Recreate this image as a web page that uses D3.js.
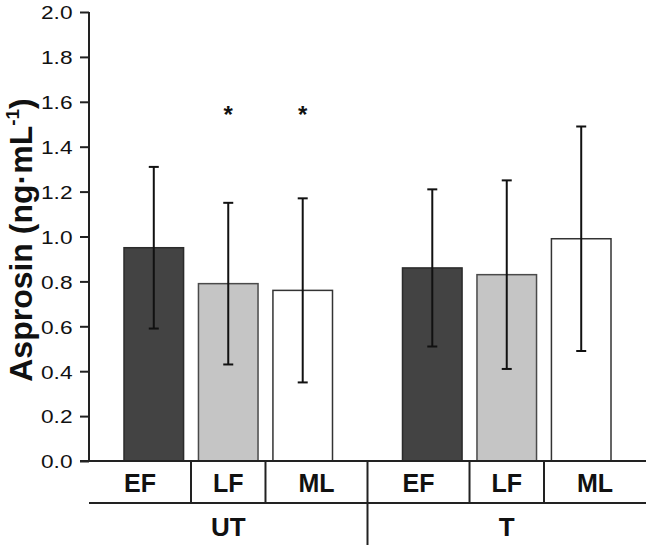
<!DOCTYPE html>
<html>
<head>
<meta charset="utf-8">
<script src="https://cdn.jsdelivr.net/npm/d3@7"></script>
<style>
  html, body { margin: 0; padding: 0; background: #fff; }
  svg { display: block; font-family: "Liberation Sans", Arial, sans-serif; }
</style>
</head>
<body>
<svg id="chart" width="649" height="548"></svg>
<script>
const groups = ["UT", "T"];
const categories = ["EF", "LF", "ML"];
const meansUT = [0.95, 0.79, 0.76];
const sdUT = [0.36, 0.36, 0.41];
const meansT = [0.86, 0.83, 0.99];
const sdT = [0.35, 0.42, 0.50];
const starsUT = ["", "*", "*"];
const starsT = ["", "", ""];
const yTicks = [0, 0.2, 0.4, 0.6, 0.8, 1.0, 1.2, 1.4, 1.6, 1.8, 2.0];
const fills = { EF: "#434343", LF: "#c5c5c5", ML: "#ffffff" };
const strokes = { EF: "#2b2b2b", LF: "#4a4a4a", ML: "#333333" };

const data = [];
groups.forEach((g, gi) => {
  const m = gi === 0 ? meansUT : meansT;
  const s = gi === 0 ? sdUT : sdT;
  const st = gi === 0 ? starsUT : starsT;
  categories.forEach((c, ci) => data.push({ group: g, cat: c, mean: m[ci], sd: s[ci], star: st[ci] }));
});

const svg = d3.select("#chart");
const axisColor = "#222";

const y = d3.scaleLinear().domain([0, 2]).range([461, 12]);
const gx = d3.scaleBand().domain(groups).range([89, 646]).padding(0);
const cx = d3.scaleBand().domain(categories).range([0, gx.bandwidth()]).paddingInner(0.2).paddingOuter(0.47);
const barCenter = d => gx(d.group) + cx(d.cat) + cx.bandwidth() / 2;

// Bars
svg.append("g").selectAll("rect").data(data).join("rect")
  .attr("x", d => gx(d.group) + cx(d.cat))
  .attr("y", d => y(d.mean))
  .attr("width", cx.bandwidth())
  .attr("height", d => y(0) - y(d.mean))
  .attr("fill", d => fills[d.cat])
  .attr("stroke", d => strokes[d.cat])
  .attr("stroke-width", 1.5);

// Error bars
const capW = 10;
const eb = svg.append("g").attr("stroke", "#111").attr("stroke-width", 2);
data.forEach(d => {
  const x0 = barCenter(d);
  eb.append("line").attr("x1", x0).attr("x2", x0).attr("y1", y(d.mean + d.sd)).attr("y2", y(d.mean - d.sd));
  eb.append("line").attr("x1", x0 - capW / 2).attr("x2", x0 + capW / 2).attr("y1", y(d.mean + d.sd)).attr("y2", y(d.mean + d.sd));
  eb.append("line").attr("x1", x0 - capW / 2).attr("x2", x0 + capW / 2).attr("y1", y(d.mean - d.sd)).attr("y2", y(d.mean - d.sd));
});

// Stars
svg.append("g").selectAll("text").data(data.filter(d => d.star)).join("text")
  .attr("x", d => barCenter(d))
  .attr("y", y(1.56) + 12)
  .attr("text-anchor", "middle")
  .attr("font-size", 24)
  .attr("font-weight", "bold")
  .attr("fill", "#111")
  .text(d => d.star);

// Y axis
const yAxis = svg.append("g").attr("transform", "translate(89,0)")
  .call(d3.axisLeft(y).tickValues(yTicks).tickFormat(d3.format(".1f")).tickSize(9).tickPadding(7));
yAxis.select(".domain").attr("stroke", axisColor).attr("stroke-width", 2).attr("d", `M0,${y(2)}V${y(0)}`);
yAxis.selectAll(".tick line").attr("stroke", axisColor).attr("stroke-width", 2);
yAxis.selectAll(".tick text").attr("font-size", 19).attr("fill", "#111")
  .attr("x", -16.5)
  .attr("dy", "0.36em")
  .attr("textLength", 31.5).attr("lengthAdjust", "spacingAndGlyphs")
  .style("font-family", "'Liberation Sans', Arial, sans-serif");

// X baseline and category table
const lines = svg.append("g").attr("stroke", axisColor).attr("stroke-width", 2);
lines.append("line").attr("x1", 80).attr("x2", 646).attr("y1", y(0)).attr("y2", y(0));
lines.append("line").attr("x1", 89).attr("x2", 646).attr("y1", 503).attr("y2", 503);

const catBounds = [];
groups.forEach(g => {
  const centers = categories.map(c => gx(g) + cx(c) + cx.bandwidth() / 2);
  const edges = [gx(g)];
  for (let i = 0; i < centers.length - 1; i++) edges.push((centers[i] + centers[i + 1]) / 2);
  edges.push(gx(g) + gx.bandwidth());
  categories.forEach((c, i) => catBounds.push({ g, c, x0: edges[i], x1: edges[i + 1] }));
  edges.slice(1, -1).forEach(e => {
    lines.append("line").attr("x1", e).attr("x2", e).attr("y1", y(0)).attr("y2", 503);
  });
});
groups.slice(1).forEach(g => {
  lines.append("line").attr("x1", gx(g)).attr("x2", gx(g)).attr("y1", y(0)).attr("y2", 545);
});

svg.append("g").selectAll("text").data(catBounds).join("text")
  .attr("x", d => (d.x0 + d.x1) / 2)
  .attr("y", 492)
  .attr("text-anchor", "middle")
  .attr("font-size", 25)
  .attr("font-weight", "bold")
  .attr("fill", "#111")
  .text(d => d.c);

svg.append("g").selectAll("text").data(groups).join("text")
  .attr("x", g => gx(g) + gx.bandwidth() / 2)
  .attr("y", 536)
  .attr("text-anchor", "middle")
  .attr("font-size", 26)
  .attr("font-weight", "bold")
  .attr("fill", "#111")
  .text(g => g);

// Y label
const yl = svg.append("text")
  .attr("transform", "translate(32,240) rotate(-90)")
  .attr("text-anchor", "middle")
  .attr("font-size", 32)
  .attr("font-weight", "bold")
  .attr("fill", "#111");
yl.append("tspan").text("Asprosin (ng·mL");
yl.append("tspan").attr("font-size", 19).attr("dy", -13).text("-1");
yl.append("tspan").attr("dy", 13).text(")");
</script>
</body>
</html>
